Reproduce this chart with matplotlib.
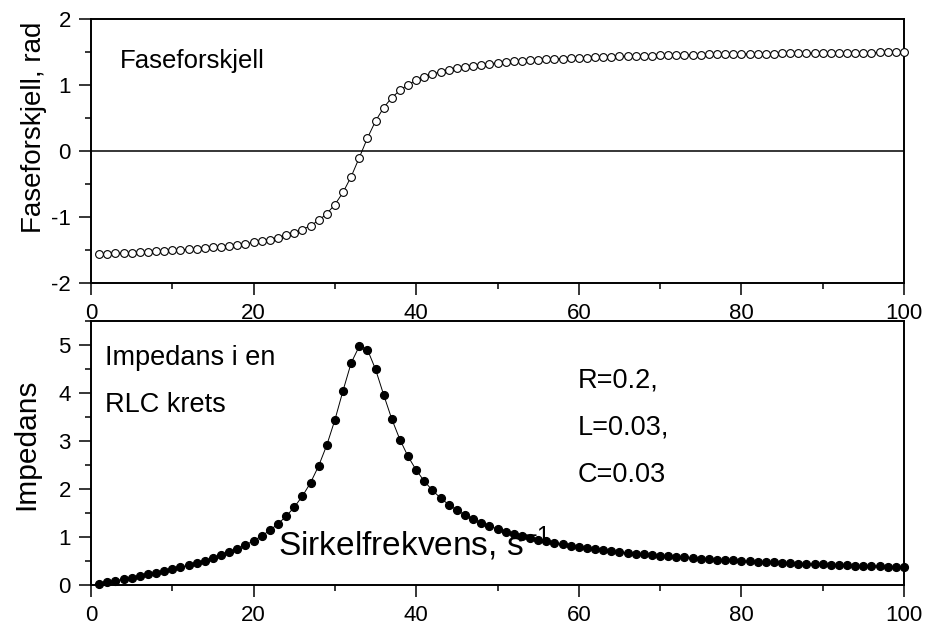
import matplotlib
matplotlib.use("Agg")
import matplotlib.pyplot as plt
from matplotlib.ticker import MultipleLocator

plt.rcParams['font.family'] = ['Liberation Sans', 'DejaVu Sans']
plt.rcParams['mathtext.default'] = 'regular'
plt.rcParams['axes.unicode_minus'] = False

# sirkelfrekvens 1..100
omega = list(range(1, 101))

# faseforskjell (rad), lest av figuren
fase = [-1.565, -1.559, -1.553, -1.546, -1.540, -1.534, -1.527, -1.520, -1.513, -1.505,
        -1.497, -1.488, -1.479, -1.469, -1.458, -1.447, -1.434, -1.420, -1.403, -1.386,
        -1.365, -1.341, -1.313, -1.280, -1.240, -1.191, -1.131, -1.052, -0.949, -0.812,
        -0.627, -0.389, -0.100, 0.196, 0.454, 0.657, 0.808, 0.920, 1.006, 1.071,
        1.124, 1.165, 1.200, 1.229, 1.254, 1.275, 1.293, 1.309, 1.323, 1.335,
        1.346, 1.357, 1.366, 1.374, 1.382, 1.389, 1.395, 1.401, 1.406, 1.411,
        1.416, 1.421, 1.425, 1.429, 1.433, 1.436, 1.439, 1.442, 1.445, 1.448,
        1.451, 1.453, 1.456, 1.458, 1.460, 1.463, 1.465, 1.467, 1.469, 1.470,
        1.472, 1.474, 1.475, 1.477, 1.478, 1.480, 1.481, 1.483, 1.484, 1.485,
        1.486, 1.488, 1.489, 1.490, 1.491, 1.492, 1.493, 1.494, 1.495, 1.496]

# impedans
impedans = [0.030, 0.060, 0.091, 0.122, 0.153, 0.186, 0.219, 0.254, 0.291, 0.329,
            0.369, 0.412, 0.458, 0.507, 0.561, 0.619, 0.683, 0.753, 0.833, 0.921,
            1.023, 1.139, 1.274, 1.432, 1.622, 1.851, 2.129, 2.481, 2.913, 3.440,
            4.049, 4.626, 4.975, 4.905, 4.493, 3.961, 3.456, 3.028, 2.678, 2.394,
            2.162, 1.971, 1.811, 1.675, 1.559, 1.459, 1.372, 1.295, 1.228, 1.167,
            1.112, 1.063, 1.019, 0.978, 0.941, 0.907, 0.875, 0.846, 0.819, 0.793,
            0.770, 0.748, 0.727, 0.708, 0.689, 0.672, 0.655, 0.640, 0.625, 0.611,
            0.598, 0.585, 0.573, 0.562, 0.550, 0.540, 0.530, 0.520, 0.511, 0.502,
            0.493, 0.485, 0.477, 0.469, 0.461, 0.454, 0.447, 0.441, 0.434, 0.428,
            0.422, 0.416, 0.410, 0.404, 0.399, 0.394, 0.388, 0.383, 0.379, 0.374]

fig = plt.figure(figsize=(9.26, 6.26), dpi=100)
ax1 = fig.add_axes([91/926, 1-283/626, 813/926, 264/626])
ax2 = fig.add_axes([91/926, 1-585/626, 813/926, 264/626])

for ax in (ax1, ax2):
    for s in ax.spines.values():
        s.set_linewidth(1.4)
    ax.set_xlim(0, 100)
    ax.xaxis.set_major_locator(MultipleLocator(20))
    ax.xaxis.set_minor_locator(MultipleLocator(10))
    ax.tick_params(which='major', direction='out', length=8.5, width=1.1,
                   labelsize=16, pad=6, top=False, right=False)
    ax.tick_params(which='minor', direction='out', length=4.5, width=1.1,
                   top=False, right=False)

# topp: faseforskjell
ax1.axhline(0, color='black', lw=1.1, zorder=1)
ax1.plot(omega, fase, '-o', color='black', lw=0.7, ms=5.6, mfc='white',
         mec='black', mew=0.8, zorder=3, clip_on=False)
ax1.set_ylim(-2, 2)
ax1.yaxis.set_major_locator(MultipleLocator(1))
ax1.yaxis.set_minor_locator(MultipleLocator(0.5))
ax1.set_ylabel('Faseforskjell, rad', fontsize=20)
ax1.yaxis.set_label_coords(-0.054, 0.59)
ax1.text(3.6, 1.26, 'Faseforskjell', fontsize=18.5)

# bunn: impedans
ax2.plot(omega, impedans, '-o', color='black', lw=0.7, ms=5.6, mfc='black',
         mec='black', zorder=3, clip_on=False)
ax2.set_ylim(0, 5.5)
ax2.yaxis.set_major_locator(MultipleLocator(1))
ax2.yaxis.set_minor_locator(MultipleLocator(0.5))
ax2.set_ylabel('Impedans', fontsize=21.5)
ax2.yaxis.set_label_coords(-0.062, 0.534)

ax2.text(1.7, 4.58, 'Impedans i en', fontsize=19.5)
ax2.text(1.7, 3.60, 'RLC krets', fontsize=19.5)
ax2.text(59.9, 4.12, 'R=0.2,', fontsize=19.5)
ax2.text(59.9, 3.13, 'L=0.03,', fontsize=19.5)
ax2.text(59.9, 2.15, 'C=0.03', fontsize=19.5)
ax2.text(23.0, 0.61, 'Sirkelfrekvens, s$^{-1}$', fontsize=24, zorder=2)

fig.savefig('out.png', dpi=100)
